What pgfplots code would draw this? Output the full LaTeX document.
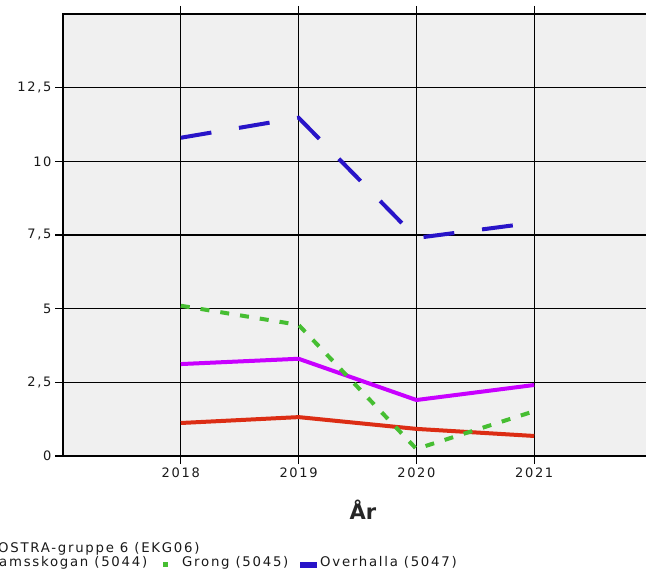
\documentclass[border=0pt]{standalone}
\usepackage{fontspec}
\setmainfont{DejaVu Sans}
\newfontfamily\tickfont[LetterSpace=13]{DejaVu Sans}
\usepackage{pgfplots}
\pgfplotsset{compat=1.18}
\definecolor{cblue}{RGB}{40,20,200}
\definecolor{cgreen}{RGB}{70,190,50}
\definecolor{cmag}{RGB}{200,0,255}
\definecolor{cred}{RGB}{220,45,20}
\definecolor{bgc}{RGB}{240,240,240}
\begin{document}
\begin{tikzpicture}[x=1bp,y=1bp]
\useasboundingbox (0,0) rectangle (646,-579);
\clip (0,0) rectangle (646,-579);
\begin{axis}[
  at={(63bp,-456bp)}, anchor=south west,
  scale only axis, width=589bp, height=442bp,
  xmin=2017, xmax=2022, ymin=0, ymax=15,
  xtick={2018,2019,2020,2021},
  ytick={0,2.5,5,7.5,10,12.5},
  /pgf/number format/use comma,
  /pgf/number format/1000 sep={},
  /pgf/number format/assume math mode=true,
  tick label style={font=\fontsize{13bp}{15bp}\tickfont, text=black!90},
  grid=major,
  major grid style={black, line width=1.3bp},
  axis line style={black, line width=1.3bp},
  tick style={black, line width=1.3bp},
  tick align=outside, major tick length=8bp,
  axis background/.style={fill=bgc},
  xlabel={År},
  xlabel style={font=\fontsize{21bp}{24bp}\bfseries, text=black!85,
    at={(axis description cs:0.509,0)}, anchor=base, yshift=-63bp},
]
\addplot[cmag, line width=4bp] coordinates {(2018,3.12) (2019,3.30) (2020,1.90) (2021,2.41)};
\addplot[cred, line width=4bp] coordinates {(2018,1.12) (2019,1.32) (2020,0.92) (2021,0.68)};
\addplot[cgreen, line width=4bp, dash pattern=on 9bp off 11bp] coordinates {(2018,5.10) (2019,4.45) (2020,0.24) (2021,1.52)};
\addplot[cblue, line width=4bp, dash pattern=on 31bp off 28bp] coordinates {(2018,10.80) (2019,11.48) (2020,7.40) (2021,7.92)};
\end{axis}
\begin{scope}[every node/.style={anchor=base west, inner sep=0pt, font=\fontsize{13.3bp}{15bp}\tickfont, text=black!90}]
\node at (-2,-552) {\llap{K}OSTRA-gruppe 6 (EKG06)};
\node at (-1,-566) {\llap{N}amsskogan (5044)};
\fill[cgreen] (163,-562) rectangle (168,-567);
\node at (182,-566) {Grong (5045)};
\fill[cblue] (300,-562) rectangle (317,-568);
\node at (320,-566) {Overhalla (5047)};
\end{scope}
\end{tikzpicture}
\end{document}
